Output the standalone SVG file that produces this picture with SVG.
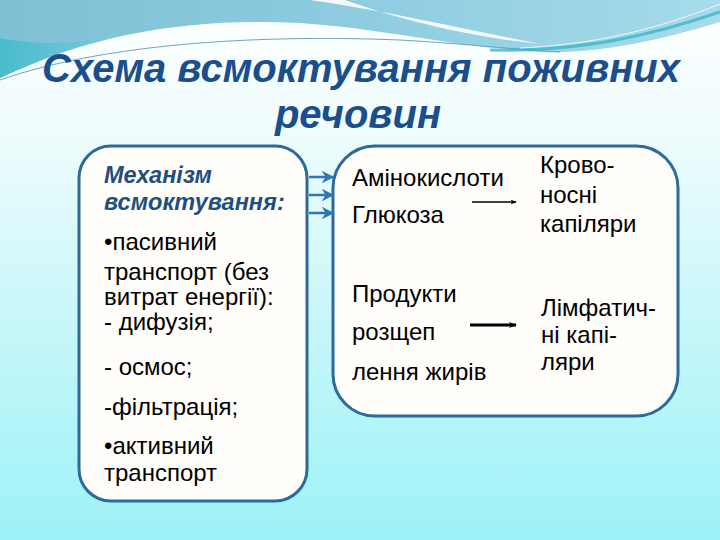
<svg xmlns="http://www.w3.org/2000/svg" width="720" height="540" viewBox="0 0 720 540">
<defs>
<linearGradient id="bg" x1="0" y1="0" x2="0" y2="1">
<stop offset="0" stop-color="#ffffff"/>
<stop offset="0.25" stop-color="#eefcfd"/>
<stop offset="0.55" stop-color="#cdf7fa"/>
<stop offset="1" stop-color="#9cf2f7"/>
</linearGradient>
<linearGradient id="wave" x1="0" y1="0" x2="1" y2="0">
<stop offset="0" stop-color="#7fc0d5"/>
<stop offset="0.5" stop-color="#8ecce0"/>
<stop offset="1" stop-color="#a6dbea"/>
</linearGradient>
<linearGradient id="teal" x1="0" y1="0" x2="1" y2="0">
<stop offset="0" stop-color="#3fbccb"/>
<stop offset="1" stop-color="#7fc8da"/>
</linearGradient>
<marker id="ab" viewBox="0 0 10 10" refX="9" refY="5" markerWidth="5" markerHeight="5" orient="auto" markerUnits="strokeWidth">
<path d="M0,0 L10,5 L0,10 L3,5 Z" fill="#2e75b6"/>
</marker>
<marker id="ak" viewBox="0 0 10 10" refX="9" refY="5" markerWidth="6" markerHeight="6" orient="auto" markerUnits="userSpaceOnUse">
<path d="M0,1 L10,5 L0,9 L3,5 Z" fill="#000"/>
</marker>
<marker id="ak2" viewBox="0 0 10 10" refX="9" refY="5" markerWidth="8" markerHeight="8" orient="auto" markerUnits="userSpaceOnUse">
<path d="M0,1 L10,5 L0,9 L3,5 Z" fill="#000"/>
</marker>
</defs>
<style>
.box{fill:#fffefa;stroke:#2c6a9e;stroke-width:3}
.t{font-family:"Liberation Sans",Arial,sans-serif;font-size:24px;fill:#000}
.h{font-family:"Liberation Sans",Arial,sans-serif;font-size:23.5px;font-style:italic;font-weight:bold;fill:#1f4f7c}
.title{font-family:"Liberation Sans",Arial,sans-serif;font-size:40px;font-weight:bold;font-style:italic;fill:#1b4e8c}
.ba{stroke:#2e75b6;stroke-width:2.5;fill:none}
.ka{stroke:#000;stroke-width:1.5;fill:none}
</style>
<rect width="720" height="540" fill="url(#bg)"/>
<g id="waves">
<path d="M0,0 H720 V22 C660,40 600,54 540,52 C460,48 380,28 300,23 C200,18 100,30 0,78 Z" fill="url(#wave)"/>
<path d="M0,38 C40,46 80,44 120,34 C80,44 40,60 0,78 Z" fill="url(#teal)" opacity="0.85"/>
<path d="M310,0 C380,10 450,26 540,44 C460,36 390,16 345,0 Z" fill="#ffffff" opacity="0.9"/>
<path d="M0,80 C100,45 250,34 400,40 C470,44 520,50 560,52" stroke="#6fa5b8" stroke-width="1" fill="none"/>
<path d="M490,50 C580,52 650,36 720,12" stroke="#3ab6c8" stroke-width="3" fill="none" opacity="0.8"/>
<path d="M520,48 C600,44 660,28 720,4" stroke="#ffffff" stroke-width="1" fill="none" opacity="0.8"/>
</g>
<g id="title">
<text class="title" x="361" y="82" text-anchor="middle">Схема всмоктування поживних</text>
<text class="title" x="358" y="128" text-anchor="middle">речовин</text>
</g>
<g id="node-mechanism">
<rect class="box" x="79" y="146" width="228" height="355" rx="32" ry="32"/>
<text class="h" x="104" y="183">Механізм</text>
<text class="h" x="104" y="210">всмоктування:</text>
<text class="t" x="104" y="250">•пасивний</text>
<text class="t" x="104" y="280">транспорт (без</text>
<text class="t" x="104" y="305">витрат енергії):</text>
<text class="t" x="104" y="330">- дифузія;</text>
<text class="t" x="104" y="375">- осмос;</text>
<text class="t" x="104" y="415">-фільтрація;</text>
<text class="t" x="104" y="454">•активний</text>
<text class="t" x="104" y="481">транспорт</text>
</g>
<g id="node-products">
<rect class="box" x="333" y="146" width="345" height="270" rx="42" ry="42"/>
<text class="t" x="352" y="186">Амінокислоти</text>
<text class="t" x="352" y="223">Глюкоза</text>
<text class="t" x="352" y="302">Продукти</text>
<text class="t" x="352" y="340">розщеп</text>
<text class="t" x="352" y="380">лення жирів</text>
<text class="t" x="540" y="173">Крово-</text>
<text class="t" x="540" y="203">носні</text>
<text class="t" x="540" y="232">капіляри</text>
<text class="t" x="541" y="316">Лімфатич-</text>
<text class="t" x="541" y="343">ні капі-</text>
<text class="t" x="541" y="370">ляри</text>
</g>
<g id="connectors">
<line class="ba" x1="309" y1="177" x2="333" y2="177" marker-end="url(#ab)"/>
<line class="ba" x1="309" y1="195" x2="333" y2="195" marker-end="url(#ab)"/>
<line class="ba" x1="309" y1="213" x2="333" y2="213" marker-end="url(#ab)"/>
<line class="ka" x1="472" y1="202" x2="516" y2="202" marker-end="url(#ak)"/>
<line class="ka" style="stroke-width:3" x1="470" y1="325" x2="516" y2="325" marker-end="url(#ak2)"/>
</g>
</svg>
